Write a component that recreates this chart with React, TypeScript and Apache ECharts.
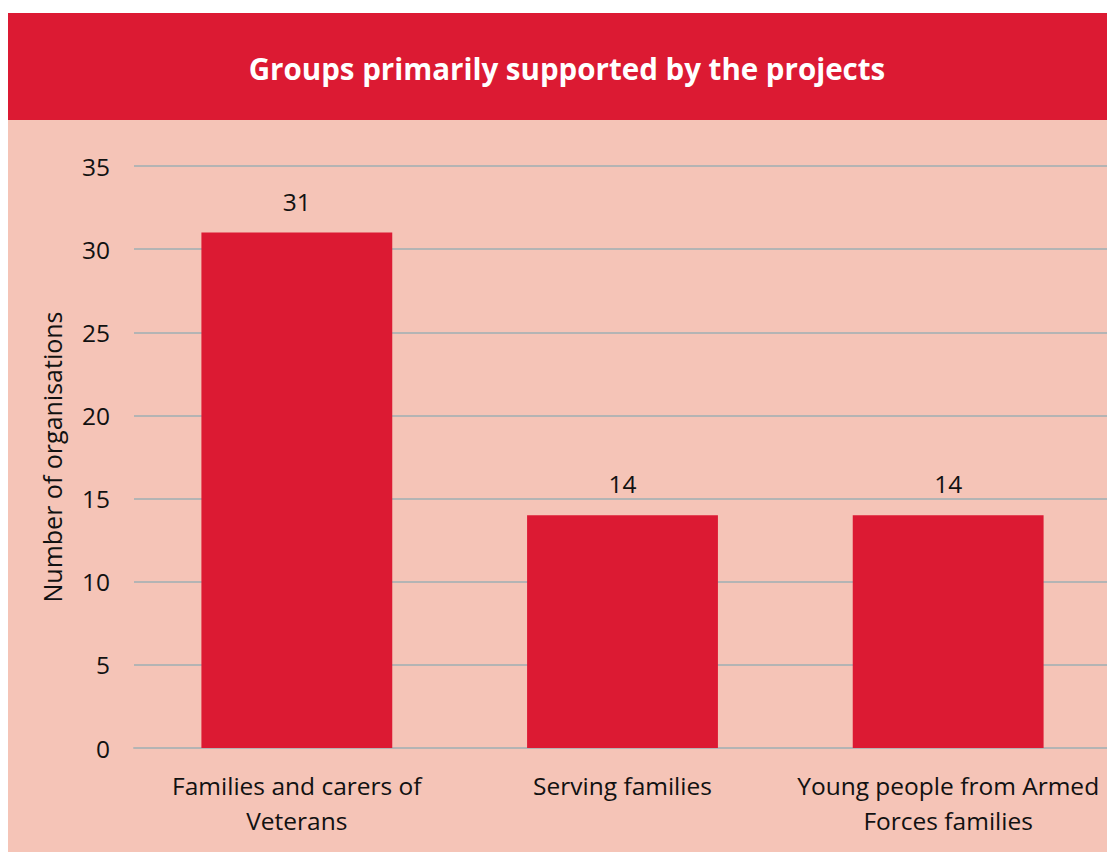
import React, { useEffect, useRef } from "react";
import * as echarts from "echarts";

const categories = [
  "Families and carers of\nVeterans",
  "Serving families",
  "Young people from Armed\nForces families",
];
const values = [31, 14, 14];
const titleText = "Groups primarily supported by the projects";
const yAxisName = "Number of organisations";

export default function App() {
  const ref = useRef<HTMLDivElement>(null);
  useEffect(() => {
    if (!ref.current) return;
    const chart = echarts.init(ref.current, null, { renderer: "svg" });
    chart.setOption({
      animation: false,
      graphic: [
        {
          type: "rect",
          z: -10,
          shape: { x: 0, y: 5, width: 1107, height: 107 },
          style: { fill: "#DC1A33" },
        },
        {
          type: "rect",
          z: -10,
          shape: { x: 0, y: 112, width: 1107, height: 740 },
          style: { fill: "#F5C4B7" },
        },
        {
          type: "text",
          x: 559,
          y: 60,
          style: {
            text: titleText,
            fill: "#ffffff",
            font: "bold 29.5px 'Open Sans', sans-serif",
            align: "center",
            verticalAlign: "middle",
          },
        },
      ],
      grid: { left: 126, right: 4, top: 158, bottom: 104 },
      xAxis: {
        type: "category",
        data: categories,
        axisLine: { show: true, lineStyle: { color: "#b4b4b4", width: 2 } },
        axisTick: { show: false },
        axisLabel: {
          color: "#111",
          fontSize: 24.5,
          fontFamily: "'Open Sans', sans-serif",
          lineHeight: 35,
          margin: 20,
          interval: 0,
        },
      },
      yAxis: {
        type: "value",
        min: 0,
        max: 35,
        interval: 5,
        name: yAxisName,
        nameLocation: "middle",
        nameGap: 70,
        nameTextStyle: {
          color: "#111",
          fontSize: 25,
          fontFamily: "'Open Sans', sans-serif",
        },
        axisLabel: {
          color: "#111",
          fontSize: 24.5,
          fontFamily: "'Open Sans', sans-serif",
          margin: 24,
        },
        splitLine: { lineStyle: { color: "#b4b4b4", width: 2 } },
      },
      series: [
        {
          type: "bar",
          data: values,
          barWidth: "58.6%",
          itemStyle: { color: "#DC1A33" },
          label: {
            show: true,
            position: "top",
            distance: 19,
            color: "#111",
            fontSize: 24.5,
            fontFamily: "'Open Sans', sans-serif",
          },
        },
      ],
    });
    return () => chart.dispose();
  }, []);
  return <div ref={ref} style={{ width: 1107, height: 844 }} />;
}
